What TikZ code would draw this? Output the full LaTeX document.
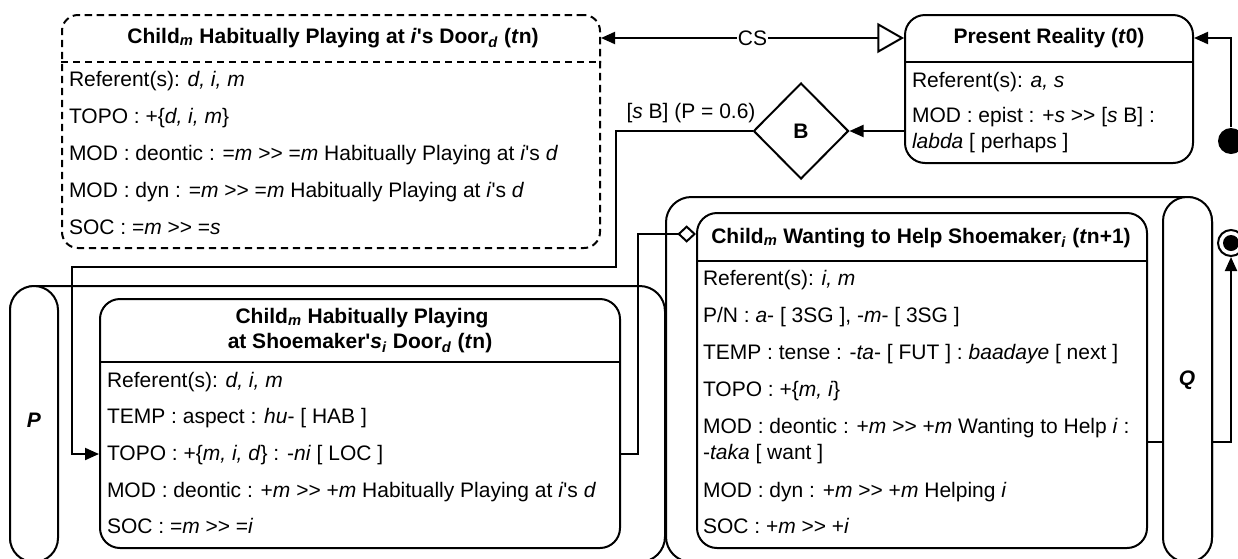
\documentclass[tikz,border=0pt]{standalone}
\usepackage{fontspec}
\setmainfont{Liberation Sans}[Ligatures=TeXOff]
\usetikzlibrary{arrows.meta,shapes.geometric,fit}
\newcommand\lsub[1]{\textsubscript{\textit{#1}}}
\newcommand\dfont{\fontsize{15.75}{18}\selectfont}
\begin{document}
\begin{tikzpicture}[x=0.75pt,y=-0.75pt,line width=1.5pt,
  every node/.style={font=\dfont},
  statebox/.style={draw,fill=white,rounded corners=15pt,inner sep=0pt},
  lane/.style={draw,fill=white,rounded corners=19pt,inner sep=0pt},
  pill/.style={draw,fill=white,rounded corners=18pt,inner sep=0pt},
  row/.style={anchor=base west,inner sep=0pt},
  head/.style={anchor=base,inner sep=0pt,font=\dfont\bfseries},
  lanelabel/.style={inner sep=0pt,font=\dfont\bfseries\itshape},
  flow/.style={-{Triangle[length=10.5pt,width=9pt]}},
  opentri/.style={{Triangle[open,length=20pt,width=22.5pt,fill=white]}-{Triangle[length=10.5pt,width=9pt]}},
  agg/.style={-{Diamond[open,length=14pt,width=13pt]}},
]
\useasboundingbox (0,0) rectangle (1238,558);
\fill[white] (0,0) rectangle (1238,558);
\clip (0,0) rectangle (1238,558);

% lanes
\node[lane,fit={(10,286) (665,562)}] (laneP) {};
\node[pill,fit={(10,286) (58,562)}] (pillP) {};
\node[lanelabel] (labP) at (34,420) {P};
\node[lane,fit={(666,197) (1212,562)}] (laneQ) {};

% final state and the flow into it, passing under the Q bar
\node[circle,draw,fill=white,minimum size=19.5pt,inner sep=0pt] (final) at (1231,243) {};
\fill (final.center) circle (8);
\node[statebox,fit={(697,213) (1147,548)}] (help) {};
\draw[flow] (help.east |- 0,442) -| (final.south);
\node[pill,fit={(1163,197) (1212,562)}] (pillQ) {};
\node[lanelabel] (labQ) at (1187,380) {Q};

% imagined state
\node[statebox,dashed,dash pattern=on 5.5pt off 3.5pt,rounded corners=12pt,fit={(62,15) (600,248)}] (dream) {};
\draw[dashed,dash pattern=on 5.5pt off 3.5pt] (dream.west |- 0,62) -- (dream.east |- 0,62);
\node[head] (dreamt) at (333,43) {Child\lsub{m} Habitually Playing at \textit{i}'s Door\lsub{d} (\textit{t}n)};
\node[row] (d1) at (68,86) {Referent(s): \textit{d, i, m}};
\node[row] (d2) at (68,123) {TOPO : +\{\textit{d, i, m}\}};
\node[row] (d3) at (68,160) {MOD : deontic : =\textit{m} >> =\textit{m} Habitually Playing at \textit{i}'s \textit{d}};
\node[row] (d4) at (68,197) {MOD : dyn : =\textit{m} >> =\textit{m} Habitually Playing at \textit{i}'s \textit{d}};
\node[row] (d5) at (68,234) {SOC : =\textit{m} >> =\textit{s}};

% present reality
\node[statebox,fit={(905,15) (1193,163)}] (pr) {};
\draw (pr.west |- 0,62) -- (pr.east |- 0,62);
\node[head] (prt) at (1049,43) {Present Reality (\textit{t}0)};
\node[row] (p1) at (911,87) {Referent(s): \textit{a, s}};
\node[row] (p2) at (911,122) {MOD : epist : +\textit{s} >> [\textit{s} B] :};
\node[row] (p3) at (911,148) {\textit{labda} [ perhaps ]};

% decision
\node[diamond,draw,fill=white,minimum width=71.25pt,minimum height=72pt,inner sep=0pt,
      font=\dfont\bfseries] (B) at (801,131) {B};

% habitual state
\node[statebox,fit={(100,299) (620,548)}] (shoe) {};
\draw (shoe.west |- 0,362) -- (shoe.east |- 0,362);
\node[head] (shoet1) at (362,323) {Child\lsub{m} Habitually Playing};
\node[head] (shoet2) at (360,348) {at Shoemaker'\textit{s}\lsub{i} Door\lsub{d} (\textit{t}n)};
\node[row] (s1) at (106,387) {Referent(s): \textit{d, i, m}};
\node[row] (s2) at (106,423) {TEMP : aspect : \textit{hu}- [ HAB ]};
\node[row] (s3) at (106,460) {TOPO : +\{\textit{m, i, d}\} : -\textit{ni} [ LOC ]};
\node[row] (s4) at (106,497) {MOD : deontic : +\textit{m} >> +\textit{m} Habitually Playing at \textit{i}'s \textit{d}};
\node[row] (s5) at (106,533) {SOC : =\textit{m} >> =\textit{i}};

% wanting state
\draw (help.west |- 0,261) -- (help.east |- 0,261);
\node[head] (helpt) at (921,243) {Child\lsub{m} Wanting to Help Shoemaker\lsub{i} (\textit{t}n+1)};
\node[row] (h1) at (702,285) {Referent(s): \textit{i, m}};
\node[row] (h2) at (702,322) {P/N : \textit{a}- [ 3SG ], -\textit{m}- [ 3SG ]};
\node[row] (h3) at (702,359) {TEMP : tense : -\textit{ta}- [ FUT ] : \textit{baadaye} [ next ]};
\node[row] (h4) at (702,396) {TOPO : +\{\textit{m, i}\}};
\node[row] (h5) at (702,433) {MOD : deontic : +\textit{m} >> +\textit{m} Wanting to Help \textit{i} :};
\node[row] (h6) at (702,459) {-\textit{taka} [ want ]};
\node[row] (h7) at (702,497) {MOD : dyn : +\textit{m} >> +\textit{m} Helping \textit{i}};
\node[row] (h8) at (702,533) {SOC : +\textit{m} >> +\textit{i}};

% initial state
\node[circle,fill=black,minimum size=19.5pt,inner sep=0pt] (init) at (1231,141) {};

% connectors
\draw[opentri] (pr.west |- 0,38) -- node[fill=white,inner sep=1pt] (cs) {CS} (dream.east |- 0,38);
\draw[flow] (init.north) |- (pr.east |- 0,38);
\draw[flow] (B.east -| pr.west) -- (B.east);
\draw[flow] (B.west) -| (616,267) -| (72,454) -- (shoe.west |- 0,454);
\node[inner sep=0pt] (guard) at (691,113) {[\textit{s} B] (P = 0.6)};
\draw[agg] (shoe.east |- 0,454) -- (638,454) |- (help.west |- 0,234);
\end{tikzpicture}
\end{document}
